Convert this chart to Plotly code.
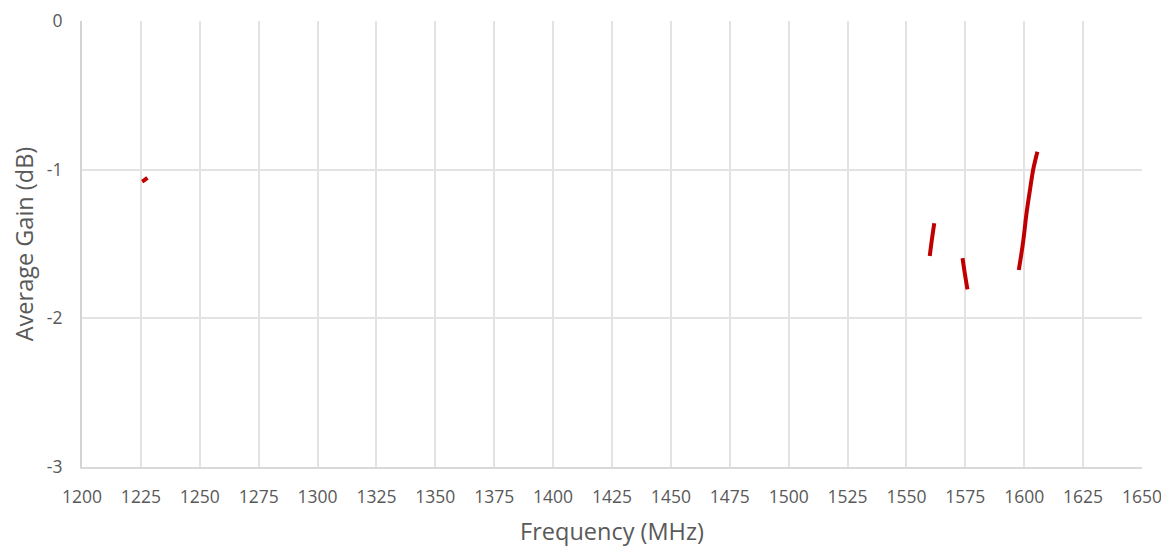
import plotly.graph_objects as go

freq = [1225.5, 1226.5, 1227.8, None,
        1559.9, 1560.8, 1561.8, None,
        1573.8, 1574.8, 1575.9, None,
        1597.7, 1599.5, 1601.0, 1602.5, 1603.8, 1604.8, 1605.6]
gain = [-1.08, -1.07, -1.055, None,
        -1.58, -1.47, -1.36, None,
        -1.595, -1.70, -1.805, None,
        -1.675, -1.49, -1.29, -1.13, -1.00, -0.93, -0.88]

x_ticks = list(range(1200, 1651, 25))
y_ticks = [0, -1, -2, -3]
y_labels = ["0", "-1", "-2", "-3"]

fig = go.Figure()
fig.add_trace(go.Scatter(x=freq, y=gain, mode="lines", connectgaps=False,
                         line=dict(color="#C00000", width=4, shape="spline"),
                         showlegend=False))

font = "Open Sans, Liberation Sans, sans-serif"
fig.update_layout(
    width=1161, height=539,
    margin=dict(l=74, r=27, t=13, b=80),
    paper_bgcolor="white", plot_bgcolor="white",
    font=dict(family=font, color="#595959", size=17),
    xaxis=dict(range=[1200, 1650], tickvals=x_ticks, automargin=False,
               showgrid=True, gridcolor="#E3E3E3", gridwidth=2,
               showline=True, linecolor="#D9D9D9", linewidth=2,
               zeroline=False, ticks="", ticklabelstandoff=13,
               title=dict(text="Frequency (MHz)", font=dict(size=23.5, color="#595959"), standoff=18),
               tickfont=dict(size=17.5, color="#595959")),
    yaxis=dict(range=[-3, 0], tickvals=y_ticks, ticktext=y_labels, automargin=False,
               showgrid=True, gridcolor="#E3E3E3", gridwidth=2,
               showline=True, linecolor="#D3D3D3", linewidth=2,
               zeroline=False, ticks="", ticklabelstandoff=14,
               title=dict(text="Average Gain (dB)", font=dict(size=23.5, color="#595959"), standoff=12),
               tickfont=dict(size=17.5, color="#595959")),
)
fig.write_html("out.html")
